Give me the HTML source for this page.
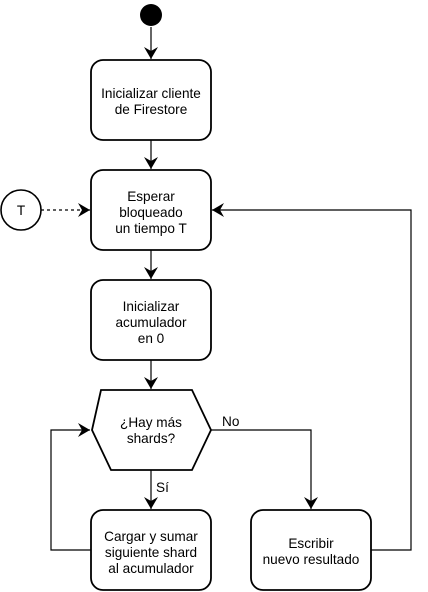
<!DOCTYPE html>
<html><head><meta charset="utf-8"><style>
html,body{margin:0;padding:0;background:#fff;}
svg{display:block;}
text{font-family:"Liberation Sans",Arial,sans-serif;font-size:13.6px;fill:#000;}
</style></head><body>
<svg width="428" height="592" viewBox="0 0 428 592" xmlns="http://www.w3.org/2000/svg">
<defs>
<marker id="a" markerWidth="14" markerHeight="14" refX="12" refY="7" orient="auto" markerUnits="userSpaceOnUse">
<path d="M0,0 L12,7 L0,14 L4,7 Z" fill="#000"/>
</marker>
</defs>
<g fill="none" stroke="#000" stroke-width="1.2">
<line x1="151" y1="27" x2="151" y2="59" marker-end="url(#a)"/>
<line x1="151" y1="140" x2="151" y2="169" marker-end="url(#a)"/>
<line x1="151" y1="250" x2="151" y2="279" marker-end="url(#a)"/>
<line x1="151" y1="360" x2="151" y2="389" marker-end="url(#a)"/>
<line x1="151" y1="470" x2="151" y2="509" marker-end="url(#a)"/>
<line x1="41" y1="210" x2="90" y2="210" stroke-dasharray="3,3" marker-end="url(#a)"/>
<polyline points="91,550 51,550 51,430 90,430" marker-end="url(#a)"/>
<polyline points="211,430 311,430 311,509" marker-end="url(#a)"/>
<polyline points="371,550 411,550 411,210 212,210" marker-end="url(#a)"/>
</g>
<circle cx="151" cy="15" r="11" fill="#000"/>
<circle cx="21" cy="210" r="20" fill="#fff" stroke="#000" stroke-width="1.6"/>
<text x="21" y="215" text-anchor="middle">T</text>
<g fill="#fff" stroke="#000" stroke-width="1.8">
<rect x="91" y="60" width="120" height="80" rx="12"/>
<rect x="91" y="170" width="120" height="80" rx="12"/>
<rect x="91" y="280" width="120" height="80" rx="12"/>
<polygon points="92,430 101,390 192,390 211,430 192,470 111,470"/>
<rect x="91" y="510" width="120" height="80" rx="12"/>
<rect x="251" y="510" width="120" height="80" rx="12"/>
</g>
<g text-anchor="middle">
<text x="151" y="98">Inicializar cliente</text>
<text x="151" y="114">de Firestore</text>
<text x="151" y="201">Esperar</text>
<text x="151" y="217">bloqueado</text>
<text x="151" y="233">un tiempo T</text>
<text x="151" y="311">Inicializar</text>
<text x="151" y="327">acumulador</text>
<text x="151" y="343">en 0</text>
<text x="151" y="427">¿Hay más</text>
<text x="151" y="443">shards?</text>
<text x="151" y="541">Cargar y sumar</text>
<text x="151" y="557">siguiente shard</text>
<text x="151" y="573">al acumulador</text>
<text x="311" y="548">Escribir</text>
<text x="311" y="564">nuevo resultado</text>
</g>
<text x="222" y="426">No</text>
<text x="156" y="492">Sí</text>
</svg>
</body></html>
